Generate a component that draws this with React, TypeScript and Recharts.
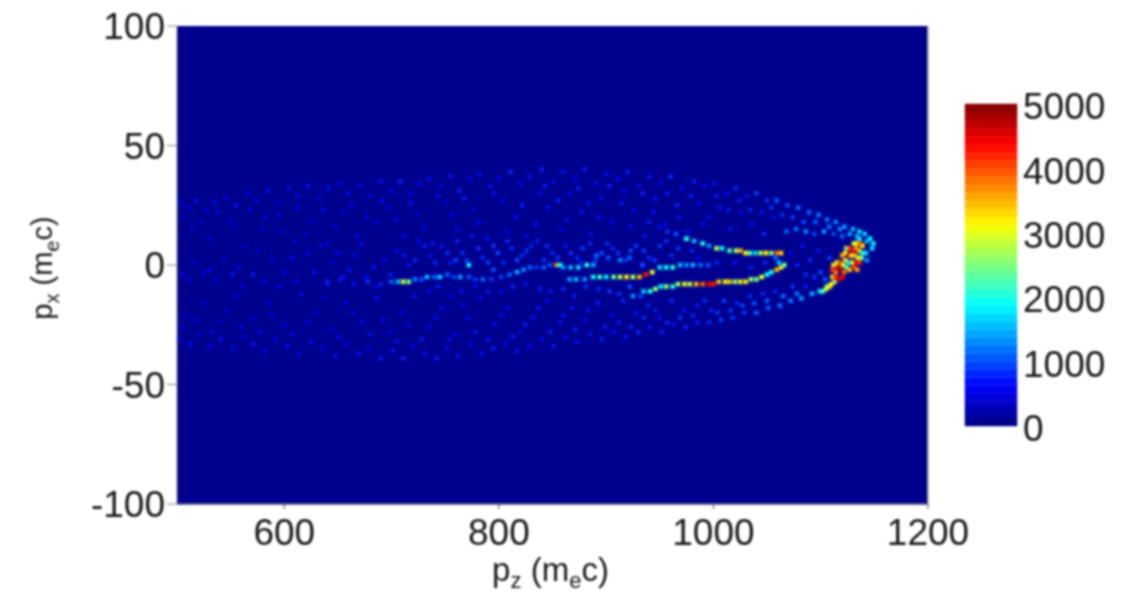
import {
  Bar,
  BarChart,
  Label,
  ReferenceArea,
  ReferenceLine,
  Scatter,
  ScatterChart,
  XAxis,
  YAxis,
} from "recharts";

type Cell = [number, number, number]; // pz, px, count

const pzTicks = [600, 800, 1000, 1200];
const pxTicks = [-100, -50, 0, 50, 100];
const countTicks = [0, 1000, 2000, 3000, 4000, 5000];
const colorbarBands = Array.from({ length: 40 }, () => 125);

const upperEnvelope: Cell[] = [
  [503, 26, 550], [510, 24, 620], [518, 27, 700], [527, 23, 580], [535, 26, 650], [546, 28, 620], [555, 25, 720], [566, 30, 600],
  [574, 27, 630], [585, 31, 700], [593, 26, 560], [604, 32, 670], [613, 29, 620], [622, 33, 720], [633, 28, 590], [641, 32, 680],
  [652, 34, 630], [660, 30, 720], [671, 33, 650], [680, 29, 600], [690, 35, 720], [699, 31, 630], [708, 35, 810], [717, 30, 600],
  [726, 34, 670], [735, 36, 700], [746, 33, 640], [755, 37, 720], [763, 31, 800], [773, 36, 630], [782, 38, 680], [792, 33, 720],
  [800, 36, 630], [811, 39, 840], [820, 34, 670], [829, 37, 700], [840, 40, 820], [851, 35, 680], [860, 39, 720], [871, 36, 630],
  [880, 40, 760], [891, 34, 700], [900, 38, 720], [911, 36, 680], [920, 39, 790], [931, 33, 670], [940, 37, 720], [951, 34, 650],
  [960, 37, 880], [971, 32, 670], [982, 35, 760], [992, 33, 680], [1001, 34, 720], [1012, 30, 660], [1021, 32, 820], [1031, 29, 720],
  [1040, 30, 940], [1050, 27, 850], [1059, 27, 1020], [1069, 25, 960], [1079, 24, 1100], [1089, 22, 1080], [1098, 21, 1200], [1106, 19, 1150],
  [1114, 18, 1250], [1122, 16, 1380], [1130, 15, 1450], [1136, 14, 1700], [1141, 13, 1600], [1146, 11, 1900], [1149, 9, 1800], [1148, 7, 1700],
];

const upperFill: Cell[] = [
  [514, 15, 520], [530, 11, 540], [548, 19, 500], [562, 8, 600], [579, 15, 530], [594, 21, 560], [610, 10, 620], [626, 18, 550],
  [640, 9, 580], [655, 22, 530], [668, 12, 670], [686, 18, 540], [697, 24, 590], [711, 12, 620], [724, 21, 580], [738, 9, 720],
  [750, 26, 590], [762, 15, 630], [776, 23, 570], [789, 11, 680], [803, 27, 620], [816, 20, 670], [826, 12, 650], [838, 30, 640],
  [846, 24, 680], [858, 15, 620], [866, 30, 670], [877, 22, 720], [886, 13, 660], [895, 28, 680], [905, 18, 640], [917, 31, 670],
  [926, 23, 630], [936, 12, 720], [946, 28, 700], [955, 17, 670], [966, 25, 820], [976, 14, 700], [986, 26, 670], [996, 20, 680],
  [1006, 24, 720], [1016, 15, 740], [1026, 22, 670], [1036, 17, 720], [1047, 13, 820], [1056, 20, 680], [1068, 14, 1080], [1077, 15, 1150],
  [1086, 14, 1250], [1094, 13, 960], [1103, 14, 1320], [1112, 13, 980], [1120, 12, 1080], [1090, 2, 820], [1098, 6, 720], [1083, 8, 740],
  [1072, 5, 670], [1108, 3, 900], [1100, -3, 960], [1094, -5, 880], [1104, -6, 1020],
];

const upperExtra: Cell[] = [
  [507, 20, 480], [522, 18, 560], [538, 22, 600], [553, 17, 520], [568, 23, 640], [583, 20, 560], [598, 14, 500], [612, 24, 620],
  [620, 13, 520], [636, 23, 640], [648, 16, 600], [663, 25, 620], [677, 20, 580], [691, 27, 700], [704, 19, 640], [718, 26, 720],
  [730, 16, 620], [743, 29, 680], [757, 21, 640], [768, 28, 760], [781, 18, 660], [795, 30, 720], [808, 14, 620], [822, 25, 800],
  [834, 17, 720], [843, 33, 780], [855, 27, 820], [864, 19, 680], [874, 32, 760], [884, 26, 720], [893, 20, 700], [903, 33, 800],
  [914, 26, 740], [923, 16, 680], [934, 30, 820], [944, 22, 700], [957, 30, 760], [968, 20, 720], [979, 29, 780], [990, 17, 680],
  [1003, 29, 760], [1014, 23, 720], [1024, 27, 780], [1034, 23, 800], [1045, 22, 720], [1054, 24, 880], [1064, 21, 860], [1074, 20, 920],
  [1084, 18, 980], [1095, 18, 1060], [1108, 16, 1180], [1118, 15, 1240], [1127, 13, 1380], [1143, 10, 1500],
];

const lowerEnvelope: Cell[] = [
  [502, -31, 580], [512, -33, 660], [520, -29, 540], [531, -34, 620], [541, -31, 700], [552, -35, 620], [562, -30, 590], [571, -33, 720],
  [582, -36, 600], [592, -31, 630], [603, -34, 700], [614, -37, 620], [625, -32, 670], [636, -35, 600], [648, -38, 690], [658, -33, 640],
  [669, -37, 700], [679, -35, 620], [690, -39, 760], [701, -36, 720], [711, -39, 820], [720, -34, 630], [731, -37, 700], [742, -39, 760],
  [752, -35, 670], [762, -38, 720], [773, -33, 620], [784, -37, 700], [795, -35, 760], [806, -33, 650], [817, -36, 720], [829, -34, 680],
  [840, -31, 670], [851, -34, 740], [862, -30, 680], [873, -32, 720], [885, -29, 700], [896, -31, 780], [907, -28, 690], [918, -30, 720],
  [930, -28, 840], [941, -26, 720], [952, -28, 780], [963, -25, 720], [974, -26, 840], [985, -24, 760], [996, -24, 820], [1007, -23, 920],
  [1018, -22, 900], [1029, -20, 920], [1040, -20, 1060], [1051, -18, 1040], [1062, -17, 1180], [1072, -15, 1220], [1082, -14, 1350], [1092, -12, 1480],
  [1099, -11, 1650], [1106, -9, 1900],
];

const lowerFill: Cell[] = [
  [508, -21, 540], [526, -16, 500], [540, -24, 570], [556, -13, 610], [570, -22, 540], [586, -16, 560], [600, -25, 620], [616, -12, 670],
  [630, -20, 550], [644, -27, 600], [657, -16, 580], [672, -24, 620], [686, -14, 720], [698, -28, 580], [710, -20, 630], [722, -13, 700],
  [735, -26, 650], [747, -18, 640], [759, -29, 620], [771, -22, 670], [783, -14, 660], [796, -25, 670], [808, -18, 630], [820, -28, 620],
  [832, -22, 720], [845, -15, 690], [857, -24, 680], [868, -18, 740], [880, -23, 670], [892, -16, 760], [905, -21, 680], [916, -15, 820],
  [928, -20, 720], [939, -17, 800], [950, -22, 700], [961, -15, 820], [973, -19, 740], [985, -17, 760], [998, -19, 820], [1010, -15, 920],
  [1022, -16, 820], [1034, -13, 840], [1046, -12, 820], [1058, -11, 800], [1074, -9, 900], [1086, -9, 760],
];

const lowerExtra: Cell[] = [
  [505, -26, 520], [518, -23, 580], [533, -28, 640], [547, -19, 540], [560, -26, 620], [577, -28, 660], [589, -21, 560], [608, -29, 680],
  [621, -24, 600], [637, -14, 560], [651, -30, 660], [664, -20, 600], [680, -29, 700], [692, -23, 640], [705, -32, 720], [716, -25, 660],
  [728, -31, 760], [741, -22, 680], [754, -31, 700], [766, -17, 640], [778, -28, 740], [790, -31, 720], [802, -21, 680], [813, -30, 760],
  [825, -25, 780], [837, -18, 700], [848, -28, 760], [860, -21, 720], [871, -27, 800], [883, -19, 740], [899, -26, 780], [912, -24, 760],
  [923, -26, 800], [935, -22, 840], [946, -19, 760], [957, -24, 820], [969, -22, 860], [981, -21, 800], [992, -15, 840], [1004, -20, 900],
  [1016, -19, 880], [1027, -17, 960], [1038, -16, 1000], [1050, -15, 1040], [1065, -13, 1120], [1078, -12, 1180],
];

const centerFill: Cell[] = [
  [505, -4, 580], [516, 1, 540], [525, -3, 650], [536, -6, 580], [544, 3, 520], [552, -4, 720], [561, -9, 620], [571, -4, 760],
  [581, -7, 620], [589, 2, 580], [600, -3, 640], [612, -7, 660], [622, 5, 620], [634, 8, 680], [645, 1, 580], [655, -5, 720],
  [666, 4, 630], [676, -5, 680], [686, -9, 660], [694, 2, 630], [705, 6, 670], [716, 0, 700], [725, 10, 670], [736, 4, 720],
  [747, 8, 740], [755, 1, 760], [766, 5, 840], [775, 12, 720], [785, 3, 840], [795, 8, 900], [804, 1, 820], [812, 7, 820],
  [822, 4, 840], [830, 8, 780], [842, 2, 880], [850, 5, 820], [862, 8, 740], [873, 3, 820], [885, 9, 840], [896, 5, 960],
  [906, 7, 820], [918, 2, 900], [928, 8, 900], [940, 3, 840], [950, 8, 900], [961, 4, 820], [973, 11, 840], [986, 3, 720],
  [735, -11, 630], [755, -13, 600], [778, -9, 670], [802, -11, 660], [825, -8, 680], [848, -11, 720], [870, -13, 760], [893, -10, 820],
  [912, -12, 860], [932, -13, 940],
];

const centerExtra: Cell[] = [
  [511, -6, 600], [531, -2, 620], [557, -1, 640], [576, 6, 560], [595, -9, 620], [607, 3, 640], [628, -3, 700], [640, -8, 720],
  [650, 5, 680], [661, -2, 700], [672, 9, 660], [683, -1, 740], [699, -4, 760], [712, 4, 740], [722, 2, 800], [731, 8, 760],
  [741, 1, 820], [752, 5, 860], [761, 10, 780], [770, 2, 920], [781, 7, 860], [790, 1, 940], [799, 5, 980], [808, 10, 820],
  [817, 2, 960], [826, 6, 900], [836, 10, 780], [845, 8, 840], [855, 3, 900], [867, 5, 880], [878, 7, 900], [890, 2, 920],
  [901, 9, 860], [911, 5, 880], [923, 6, 960], [935, 6, 900], [945, 2, 920], [956, 10, 860], [967, 7, 880], [980, 6, 820],
  [743, -9, 760], [765, -11, 700], [790, -11, 740], [813, -9, 800], [838, -10, 760], [860, -10, 820], [881, -9, 880], [903, -11, 900],
  [922, -9, 980], [1020, 1, 720], [1035, -1, 760], [1048, 1, 820], [1078, 0, 780], [1086, -4, 820],
];

const leftRidge: Cell[] = [
  [640, -7, 800], [652, -6, 760], [665, -8, 720], [678, -7, 860], [690, -8, 820], [700, -7, 1100], [706, -7, 1500], [711, -7, 2900],
  [716, -7, 2400], [722, -6, 1200], [728, -6, 1000], [733, -5, 1500], [740, -5, 1100], [745, -5, 1600], [752, -4, 1050], [758, -5, 950],
  [764, -5, 1350], [772, -5, 1000], [778, -6, 900], [785, -6, 1100], [793, -6, 900], [802, -5, 950], [810, -4, 1100], [817, -3, 1450],
  [823, -2, 1250], [829, -1, 1100], [835, -1, 900], [842, -1, 1050], [848, 0, 1000], [854, 0, 3700], [860, -1, 1300], [867, -1, 1500],
  [874, -1, 1700], [882, 0, 2000], [888, 0, 1400], [760, 2, 950], [772, 0, 1800], [795, -2, 1000],
];

const centerRidge: Cell[] = [
  [866, -6, 1350], [872, -6, 1500], [880, -6, 1300], [888, -5, 1900], [894, -5, 2200], [900, -5, 1800], [907, -5, 2400], [913, -5, 2800],
  [919, -5, 3200], [925, -5, 2700], [931, -5, 3500], [937, -4, 4300], [943, -3, 3000], [950, -1, 1700], [956, -1, 1900], [962, -1, 2100],
  [969, 0, 1500], [975, 0, 1300], [981, 0, 1450], [988, 0, 1100], [995, 0, 1000], [1003, 1, 820], [891, 4, 1100], [902, 3, 1000],
  [913, 2, 1250], [922, 3, 1050], [934, 0, 1000], [857, 0, 1800], [876, 1, 800],
];

const upperRidge: Cell[] = [
  [940, 18, 800], [950, 16, 680], [957, 14, 880], [965, 13, 1000], [975, 11, 2100], [982, 10, 1500], [990, 9, 2000], [996, 8, 1300],
  [1003, 7, 2800], [1008, 7, 1800], [1015, 6, 2200], [1021, 6, 2600], [1025, 6, 3500], [1030, 5, 3100], [1034, 5, 2300], [1039, 5, 1700],
  [1044, 5, 2700], [1049, 5, 3200], [1054, 5, 2400], [1059, 5, 3900], [1063, 5, 3400],
];

const lowerRidge: Cell[] = [
  [925, -13, 1300], [935, -11, 1600], [941, -11, 2000], [946, -10, 2600], [951, -9, 1800], [956, -9, 2600], [962, -9, 2100], [967, -8, 2600],
  [973, -8, 3000], [978, -8, 2800], [984, -8, 3500], [990, -8, 3900], [996, -8, 4500], [1000, -8, 4300], [1005, -7, 3400], [1011, -7, 3000],
  [1015, -7, 3400], [1020, -7, 2600], [1025, -7, 3000], [1030, -7, 3200], [1035, -6, 2600], [1040, -6, 2400], [1045, -5, 3100], [1050, -4, 1900],
  [1054, -3, 2000], [1059, -2, 3500], [1063, -1, 3200], [1066, 0, 2400], [1061, 1, 1500], [1058, 3, 1100],
];

const tipCore: Cell[] = [
  [1102, -11, 2200], [1105, -10, 2900], [1108, -9, 3200], [1110, -8, 3100], [1113, -7, 2700], [1111, -5, 3300], [1114, -5, 4200], [1117, -6, 4600],
  [1120, -5, 4400], [1114, -3, 3700], [1111, -2, 4100], [1116, -1, 4500], [1119, -2, 4800], [1122, -3, 3900], [1112, 0, 3300], [1115, 1, 2900],
  [1118, 1, 4000], [1121, 0, 3200], [1124, -1, 2300], [1127, -2, 3400], [1131, -1, 4100], [1134, -2, 3600], [1123, 2, 3200], [1126, 1, 1900],
  [1130, 1, 3100], [1133, 1, 4500], [1136, 1, 4200], [1120, 4, 3600], [1123, 5, 3100], [1126, 4, 4300], [1129, 4, 3000], [1132, 4, 3500],
  [1135, 3, 3200], [1138, 3, 2500], [1124, 7, 2600], [1127, 7, 4100], [1130, 6, 4400], [1133, 7, 3700], [1136, 6, 3400], [1139, 5, 2100],
  [1131, 9, 2900], [1134, 9, 3100], [1137, 9, 4100], [1139, 8, 3300], [1136, 11, 2000], [1134, 12, 1500], [1142, 5, 1700], [1143, 2, 1300],
];

const cellLayers = [
  upperEnvelope, upperFill, upperExtra, lowerEnvelope, lowerFill, lowerExtra,
  centerFill, centerExtra, leftRidge, centerRidge, upperRidge, lowerRidge, tipCore,
];

function jet(t: number) {
  const ch = (c: number) => Math.round(255 * Math.max(0, Math.min(1, 1.5 - Math.abs(4 * t - c))));
  return `rgb(${ch(3)},${ch(2)},${ch(1)})`;
}

// low counts fade into the background, the source image is an upscaled pixel map
function HeatCell(props: any) {
  const { cx, cy, payload } = props;
  const { count } = payload;
  const color = jet(count / 5000);
  if (count < 1000) {
    return <rect x={cx - 2.2} y={cy - 2.2} width={4.4} height={4.4} fill={color} fillOpacity={0.3 + count / 1600} />;
  }
  return (
    <g>
      <rect x={cx - 3.5} y={cy - 3.5} width={7} height={7} fill={color} fillOpacity={0.18} />
      <rect x={cx - 2} y={cy - 2} width={4} height={4} fill={color} />
    </g>
  );
}

function toRows(cells: Cell[]) {
  return cells.map(([pz, px, count]) => ({ pz, px, count }));
}

function AxisTitle({ viewBox, main, sub, suffix, vertical }: any) {
  const { x, y, width, height } = viewBox;
  const cx = vertical ? 52 : x + width / 2 - 2;
  const cy = vertical ? y + height / 2 + 3 : 581;
  return (
    <text
      x={cx}
      y={cy}
      textAnchor="middle"
      fontSize={vertical ? 29 : 33}
      fill="#1a1a1a"
      transform={vertical ? `rotate(-90 ${cx} ${cy})` : undefined}
    >
      p
      <tspan fontSize={vertical ? 20 : 22} dy={7}>{main}</tspan>
      <tspan dy={-7}> (m</tspan>
      <tspan fontSize={vertical ? 20 : 22} dy={7}>{sub}</tspan>
      <tspan dy={-7}>{suffix}</tspan>
    </text>
  );
}

const tickStyle = { fontSize: 37, fill: "#1a1a1a", fontFamily: "Liberation Sans" };

export default function App() {
  return (
    <div
      style={{
        position: "absolute",
        left: 0,
        top: 0,
        width: 1132,
        height: 593,
        background: "#fff",
        fontFamily: "Liberation Sans",
        filter: "blur(0.9px)",
      }}
    >
      <ScatterChart width={1132} height={593} margin={{ top: 26, right: 204, bottom: 49, left: 107 }}>
        <XAxis
          type="number"
          dataKey="pz"
          domain={[500, 1200]}
          ticks={pzTicks}
          tick={tickStyle}
          tickSize={5}
          tickMargin={10}
          stroke="#555"
          height={40}
          allowDataOverflow
        >
          <Label content={<AxisTitle main="z" sub="e" suffix="c)" />} />
        </XAxis>
        <YAxis
          type="number"
          dataKey="px"
          domain={[-100, 100]}
          ticks={pxTicks}
          tick={tickStyle}
          tickSize={10}
          tickMargin={2}
          stroke="#888"
          width={70}
          allowDataOverflow
        >
          <Label content={<AxisTitle main="x" sub="e" suffix="c)" vertical />} />
        </YAxis>
        <ReferenceArea x1={500} x2={1200} y1={-100} y2={100} fill="#00008f" fillOpacity={1} stroke="none" />
        <ReferenceLine x={1200} stroke="#aaa" strokeWidth={2} />
        <ReferenceLine y={-100} stroke="#6a6ac8" strokeWidth={2} />
        {cellLayers.map((cells, i) => (
          <Scatter key={i} data={toRows(cells)} shape={HeatCell} isAnimationActive={false} />
        ))}
      </ScatterChart>

      <div style={{ position: "absolute", left: 960, top: 74 }}>
        <BarChart
          width={162}
          height={392}
          data={[{ name: "counts" }]}
          margin={{ top: 30, right: 0, bottom: 40, left: 5 }}
          barCategoryGap={0}
        >
          <XAxis dataKey="name" hide />
          <YAxis
            orientation="right"
            type="number"
            domain={[0, 5000]}
            ticks={countTicks}
            tick={{ ...tickStyle, textAnchor: "start", dy: 2 }}
            tickLine={false}
            axisLine={false}
            tickMargin={0}
            interval={0}
            width={105}
          />
          {colorbarBands.map((size, i) => (
            <Bar
              key={i}
              dataKey={() => size}
              stackId="scale"
              fill={jet((i + 0.5) / colorbarBands.length)}
              stroke={jet((i + 0.5) / colorbarBands.length)}
              strokeWidth={0.5}
              isAnimationActive={false}
            />
          ))}
        </BarChart>
      </div>
    </div>
  );
}
